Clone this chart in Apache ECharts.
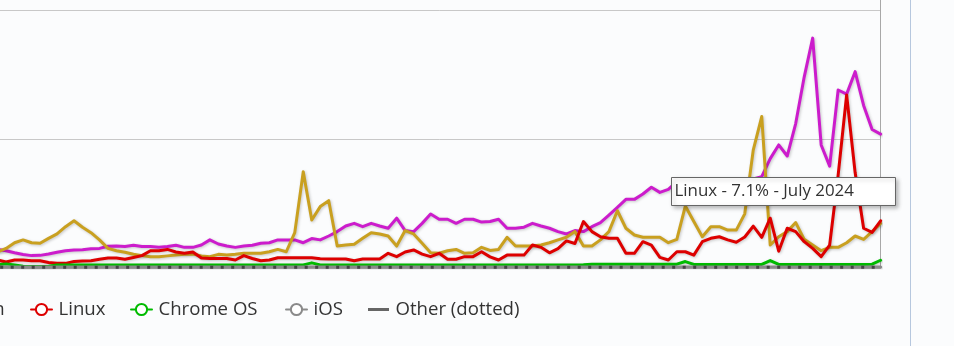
<!DOCTYPE html>
<html><head><meta charset="utf-8">
<script src="https://cdn.jsdelivr.net/npm/echarts@6/dist/echarts.min.js"></script>
<style>html,body{margin:0;padding:0;background:#fbfcfd;}#c{width:954px;height:346px;}</style>
</head><body><div id="c"></div>
<script>
const months = [
'2016-03','2016-04','2016-05','2016-06','2016-07','2016-08','2016-09','2016-10','2016-11','2016-12',
'2017-01','2017-02','2017-03','2017-04','2017-05','2017-06','2017-07','2017-08','2017-09','2017-10','2017-11','2017-12',
'2018-01','2018-02','2018-03','2018-04','2018-05','2018-06','2018-07','2018-08','2018-09','2018-10','2018-11','2018-12',
'2019-01','2019-02','2019-03','2019-04','2019-05','2019-06','2019-07','2019-08','2019-09','2019-10','2019-11','2019-12',
'2020-01','2020-02','2020-03','2020-04','2020-05','2020-06','2020-07','2020-08','2020-09','2020-10','2020-11','2020-12',
'2021-01','2021-02','2021-03','2021-04','2021-05','2021-06','2021-07','2021-08','2021-09','2021-10','2021-11','2021-12',
'2022-01','2022-02','2022-03','2022-04','2022-05','2022-06','2022-07','2022-08','2022-09','2022-10','2022-11','2022-12',
'2023-01','2023-02','2023-03','2023-04','2023-05','2023-06','2023-07','2023-08','2023-09','2023-10','2023-11','2023-12',
'2024-01','2024-02','2024-03','2024-04','2024-05','2024-06','2024-07','2024-08','2024-09','2024-10','2024-11'
];
const osx = [
0.72,0.67,0.59,0.52,0.48,0.49,0.54,0.61,0.67,0.70,
0.71,0.75,0.76,0.84,0.85,0.83,0.88,0.83,0.83,0.80,
0.83,0.88,0.80,0.80,0.89,1.09,0.93,0.85,0.80,0.85,
0.88,0.96,0.98,1.09,1.09,1.09,0.98,1.14,1.09,1.24,
1.41,1.63,1.73,1.60,1.73,1.63,1.54,1.93,1.45,1.41,
1.73,2.09,1.89,1.89,1.73,1.89,1.89,1.78,1.80,1.89,
1.54,1.54,1.58,1.73,1.63,1.54,1.41,1.32,1.45,1.41,
1.60,1.76,2.05,2.35,2.66,2.66,2.87,3.13,2.93,3.05,
3.35,3.30,3.40,3.35,3.30,3.25,3.35,3.40,3.30,3.45,
3.54,4.24,4.77,4.34,5.60,7.40,8.91,4.77,3.95,6.90,
6.74,7.61,6.30,5.37,5.19
];
const unknown = [
0.62,0.76,0.98,1.09,0.98,0.96,1.15,1.32,1.60,1.83,
1.58,1.37,1.09,0.76,0.67,0.61,0.53,0.48,0.44,0.44,
0.47,0.50,0.53,0.54,0.47,0.44,0.53,0.50,0.53,0.57,
0.57,0.57,0.63,0.72,0.63,1.37,3.73,1.86,2.38,2.61,
0.85,0.89,0.92,1.15,1.37,1.32,1.24,0.85,1.45,1.32,
0.96,0.59,0.57,0.67,0.72,0.57,0.59,0.80,0.68,0.72,
1.19,0.85,0.85,0.85,0.89,0.98,1.09,1.19,1.41,0.85,
0.85,1.09,1.41,2.22,1.54,1.28,1.19,1.19,1.19,0.98,
1.11,2.40,1.80,1.21,1.60,1.60,1.47,1.47,2.10,4.57,
5.87,0.89,1.21,1.41,1.76,1.11,0.89,0.67,0.80,0.80,
0.98,1.24,1.11,1.41,1.73
];
const linux = [
0.31,0.23,0.31,0.31,0.28,0.28,0.21,0.18,0.18,0.25,
0.27,0.28,0.34,0.39,0.39,0.34,0.41,0.48,0.67,0.67,
0.72,0.62,0.57,0.62,0.39,0.37,0.37,0.37,0.31,0.48,
0.37,0.28,0.31,0.40,0.40,0.40,0.40,0.40,0.36,0.35,
0.35,0.35,0.28,0.35,0.35,0.35,0.57,0.44,0.62,0.70,
0.54,0.44,0.57,0.34,0.34,0.44,0.44,0.63,0.43,0.31,
0.50,0.50,0.50,0.89,0.80,0.59,0.75,1.05,0.95,1.80,
1.41,1.21,1.15,1.15,0.57,0.57,1.02,0.89,0.41,0.31,
0.63,0.63,0.50,1.02,1.15,1.21,1.09,1.00,1.20,1.62,
1.19,1.93,0.65,1.54,1.41,1.02,0.76,0.44,0.89,3.60,
6.71,3.70,1.54,1.38,1.83
];
const chromeos = [
0.12,0.16,0.12,0.07,0.06,0.06,0.07,0.12,0.12,0.12,
0.12,0.12,0.12,0.12,0.12,0.12,0.12,0.12,0.12,0.12,
0.12,0.12,0.12,0.12,0.12,0.12,0.12,0.12,0.12,0.12,
0.12,0.12,0.12,0.12,0.12,0.12,0.12,0.20,0.12,0.12,
0.12,0.12,0.12,0.12,0.12,0.12,0.12,0.12,0.12,0.12,
0.12,0.12,0.12,0.12,0.12,0.12,0.12,0.12,0.12,0.12,
0.12,0.12,0.12,0.12,0.12,0.12,0.12,0.12,0.12,0.13,
0.15,0.15,0.15,0.15,0.15,0.15,0.15,0.15,0.15,0.15,
0.15,0.25,0.14,0.14,0.14,0.14,0.14,0.14,0.14,0.14,
0.14,0.29,0.14,0.14,0.14,0.14,0.14,0.14,0.14,0.14,
0.14,0.14,0.14,0.15,0.30
];
const ios = [
0.04,0.04,0.04,0.04,0.04,0.04,0.04,0.04,0.04,0.04,
0.04,0.04,0.04,0.04,0.04,0.04,0.04,0.04,0.04,0.04,
0.04,0.04,0.04,0.04,0.04,0.04,0.04,0.04,0.04,0.04,
0.04,0.04,0.04,0.04,0.04,0.04,0.04,0.04,0.04,0.04,
0.04,0.04,0.04,0.04,0.04,0.04,0.04,0.04,0.04,0.04,
0.04,0.04,0.04,0.04,0.04,0.04,0.04,0.04,0.04,0.04,
0.04,0.04,0.04,0.04,0.04,0.04,0.04,0.04,0.04,0.04,
0.04,0.04,0.04,0.04,0.04,0.04,0.04,0.04,0.04,0.04,
0.04,0.04,0.04,0.04,0.04,0.04,0.04,0.04,0.04,0.04,
0.04,0.04,0.04,0.04,0.04,0.04,0.04,0.04,0.04,0.04,
0.04,0.04,0.04,0.04,0.04
];
const other = [
0.03,0.03,0.03,0.03,0.03,0.03,0.03,0.03,0.03,0.03,
0.03,0.03,0.03,0.03,0.03,0.03,0.03,0.03,0.03,0.03,
0.03,0.03,0.03,0.03,0.03,0.03,0.03,0.03,0.03,0.03,
0.03,0.03,0.03,0.03,0.03,0.03,0.03,0.03,0.03,0.03,
0.03,0.03,0.03,0.03,0.03,0.03,0.03,0.03,0.03,0.03,
0.03,0.03,0.03,0.03,0.03,0.03,0.03,0.03,0.03,0.03,
0.03,0.03,0.03,0.03,0.03,0.03,0.03,0.03,0.03,0.03,
0.03,0.03,0.03,0.03,0.03,0.03,0.03,0.03,0.03,0.03,
0.03,0.03,0.03,0.03,0.03,0.03,0.03,0.03,0.03,0.03,
0.03,0.03,0.03,0.03,0.03,0.03,0.03,0.03,0.03,0.03,
0.03,0.03,0.03,0.03,0.03
];
const yTicks = [0, 5, 10, 15];
const tooltipText = 'Linux - 7.1% - July 2024';

const chart = echarts.init(document.getElementById('c'), null, {renderer: 'canvas'});
function mk(name, data, color, extra) {
  const s = {
    type: 'line', name: name, data: data, showSymbol: false, symbol: 'emptyCircle',
    silent: true, animation: false, emphasis: {disabled: true},
    itemStyle: {color: color},
    lineStyle: {color: color, width: 3, join: 'round', cap: 'round',
      shadowColor: 'rgba(0,0,0,0.22)', shadowBlur: 3, shadowOffsetX: 1, shadowOffsetY: 1}
  };
  if (extra) Object.assign(s.lineStyle, extra);
  return s;
}
const legendBase = {
  orient: 'horizontal', top: 300, padding: 0, itemWidth: 21, itemHeight: 14, itemGap: 0,
  selectedMode: false,
  textStyle: {fontFamily: 'Open Sans', fontSize: 18.6, color: '#333', padding: [0, 0, 0, 1.5]}
};
chart.setOption({
  animation: false,
  backgroundColor: '#fbfcfd',
  grid: {left: -2.4, right: 73.4, top: -119, bottom: 78, outerBoundsMode: 'none', containLabel: false},
  xAxis: {
    type: 'category', data: months, boundaryGap: false,
    axisLine: {show: true, lineStyle: {color: '#c8c8c8', width: 1}},
    axisTick: {show: false}, axisLabel: {show: false}, splitLine: {show: false}
  },
  yAxis: {
    type: 'value', min: yTicks[0], max: yTicks[yTicks.length - 1], interval: yTicks[1] - yTicks[0],
    position: 'right',
    axisLine: {show: true, lineStyle: {color: '#a8a8a8', width: 1}},
    axisTick: {show: false}, axisLabel: {show: false},
    splitLine: {show: true, lineStyle: {color: '#c8c8c8', width: 1}}
  },
  legend: [
    Object.assign({}, legendBase, {left: -107, data: ['Unknown']}),
    Object.assign({}, legendBase, {left: 30, data: ['Linux']}),
    Object.assign({}, legendBase, {left: 130, data: ['Chrome OS']}),
    Object.assign({}, legendBase, {left: 285, data: ['iOS']}),
    Object.assign({}, legendBase, {left: 368, data: [{name: 'Other (dotted)', icon: 'path://M0 0H21V3H0Z', itemStyle: {color: '#666', borderWidth: 0}}]})
  ],
  series: [
    mk('OS X', osx, '#cc1ccc'),
    mk('Unknown', unknown, '#c9a020'),
    mk('Linux', linux, '#dd0000'),
    mk('Chrome OS', chromeos, '#00bb00'),
    mk('iOS', ios, '#8a8a8a'),
    mk('Other (dotted)', other, '#444444', {type: [3, 7.5], dashOffset: 7.9, cap: 'butt', shadowBlur: 0, shadowOffsetX: 0, shadowOffsetY: 0})
  ],
  graphic: [
    {type: 'line', z: 50, shape: {x1: 910.5, y1: 0, x2: 910.5, y2: 346}, style: {stroke: '#b6c7de', lineWidth: 1}},
    {type: 'rect', z: 100, shape: {x: 671.5, y: 177.5, width: 224, height: 28},
      style: {fill: '#ffffff', stroke: '#666666', lineWidth: 1, shadowBlur: 4, shadowOffsetX: 2, shadowOffsetY: 2, shadowColor: 'rgba(0,0,0,0.25)'}},
    {type: 'text', z: 101, x: 674.5, y: 191.5,
      style: {text: tooltipText, font: '16.9px "Open Sans"', fill: '#333333', verticalAlign: 'middle', align: 'left'}}
  ]
});
</script>
</body></html>
